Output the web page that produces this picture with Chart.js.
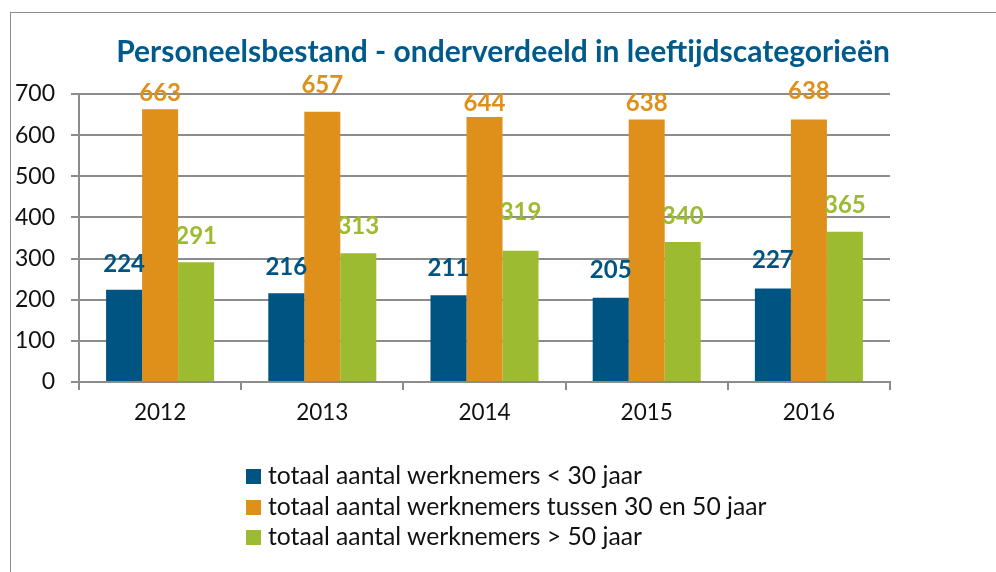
<!DOCTYPE html>
<html>
<head>
<meta charset="utf-8">
<script src="https://cdn.jsdelivr.net/npm/chart.js@4/dist/chart.umd.min.js"></script>
<style>
  body { margin: 0; background: #fff; }
  #wrap { position: relative; width: 996px; height: 572px; overflow: hidden; }
  #frame { position: absolute; left: 10px; top: 12px; width: 990px; height: 570px;
           border-left: 1px solid #8c8c8c; border-top: 1px solid #8c8c8c; }
  canvas { position: absolute; left: 0; top: 0; }
  #legend { position: absolute; left: 246px; top: 460px; font-family: Lato, sans-serif;
            font-size: 24.7px; color: #111; }
  #legend div { height: 30.5px; line-height: 30.5px; white-space: nowrap; }
  #legend span { display: inline-block; width: 15px; height: 15px; margin-right: 7px; vertical-align: 0px; }
</style>
</head>
<body>
<div id="wrap">
  <div id="frame"></div>
  <canvas id="myChart" width="996" height="572"></canvas>
  <div id="legend"></div>
</div>
<script>
// Personeelsbestand per leeftijdscategorie
var Jaren = ['2012', '2013', '2014', '2015', '2016']
var Onder30 = [224, 216, 211, 205, 227]
var Tussen30en50 = [663, 657, 644, 638, 638]
var Boven50 = [291, 313, 319, 340, 365]
var Reeksen = ['totaal aantal werknemers < 30 jaar', 'totaal aantal werknemers tussen 30 en 50 jaar', 'totaal aantal werknemers > 50 jaar']

var blauw = '#005482'
var oranje = '#de901a'
var groen = '#9dbb30'

// labels boven de balken (afstand tot de balk, zoals in het origineel verschoven)
var labelPlugin = {
    id: 'waardes',
    afterDatasetsDraw: function (chart, args, opts) {
        var ctx = chart.ctx
        ctx.save()
        ctx.font = 'bold 24px Lato'
        ctx.textAlign = 'center'
        ctx.textBaseline = 'middle'
        chart.data.datasets.forEach(function (ds, i) {
            var meta = chart.getDatasetMeta(i)
            meta.data.forEach(function (bar, j) {
                ctx.fillStyle = ds.backgroundColor
                ctx.fillText(ds.data[j], bar.x, bar.y - opts.lift[i][j])
            })
        })
        ctx.restore()
    }
}

var ctx = document.getElementById('myChart')

var myChart = new Chart(ctx, {
    type: 'bar',
    data: {
        labels: Jaren,
        datasets: [{
            label: Reeksen[0],
            data: Onder30,
            backgroundColor: blauw
        }, {
            label: Reeksen[1],
            data: Tussen30en50,
            backgroundColor: oranje
        }, {
            label: Reeksen[2],
            data: Boven50,
            backgroundColor: groen
        }]
    },
    options: {
        responsive: false,
        animation: false,
        categoryPercentage: 0.666,
        barPercentage: 1,
        layout: { padding: { left: 10, right: 0, top: 12, bottom: 140 } },
        plugins: {
            legend: { display: false },
            tooltip: { enabled: false },
            title: {
                display: true,
                text: 'Personeelsbestand - onderverdeeld in leeftijdscategorieën',
                color: '#005b8c',
                font: { family: 'Lato', size: 30, weight: 'bold', lineHeight: 1.2 },
                padding: { top: 22, bottom: 24 }
            },
            waardes: {
                lift: [
                    [26, 26, 27, 27, 28],
                    [16, 26, 14, 16, 28],
                    [26, 27, 38, 26, 27]
                ]
            }
        },
        scales: {
            x: {
                afterFit: function (s) { s.height = 50 },
                grid: { drawOnChartArea: false, drawTicks: true, tickLength: 8, color: '#8c8c8c', lineWidth: 2 },
                border: { color: '#8c8c8c', width: 2 },
                ticks: { color: '#111', font: { family: 'Lato', size: 22.5 }, padding: 9 }
            },
            y: {
                min: 0,
                max: 700,
                afterFit: function (s) { s.width = 69 },
                grid: { color: '#8c8c8c', lineWidth: 2, tickLength: 8 },
                border: { color: '#8c8c8c', width: 2 },
                ticks: { stepSize: 100, color: '#111', font: { family: 'Lato', size: 23 }, padding: 16 }
            },
            // lege ruimte rechts van de grafiek
            rechts: {
                type: 'linear',
                position: 'right',
                afterFit: function (s) { s.width = 106 },
                grid: { display: false },
                border: { display: false },
                ticks: { display: false }
            }
        }
    },
    plugins: [labelPlugin]
});

// legenda onder de grafiek
var legenda = document.getElementById('legend')
myChart.data.datasets.forEach(function (ds) {
    var regel = document.createElement('div')
    var blokje = document.createElement('span')
    blokje.style.background = ds.backgroundColor
    regel.appendChild(blokje)
    regel.appendChild(document.createTextNode(ds.label))
    legenda.appendChild(regel)
})
</script>
</body>
</html>
